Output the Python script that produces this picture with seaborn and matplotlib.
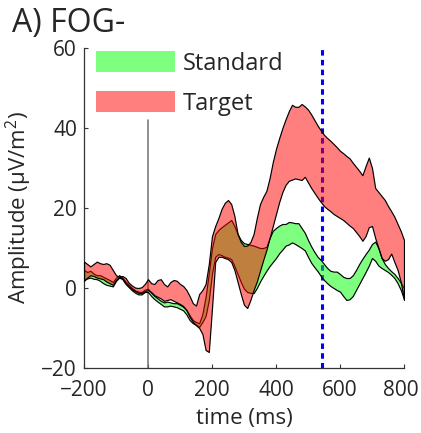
import matplotlib
matplotlib.use("Agg")
import matplotlib.pyplot as plt
import matplotlib.transforms as mtransforms
from matplotlib.patches import Patch
import seaborn as sns

# time axis (ms), 10 ms steps
time_ms = [-200, -190, -180, -170, -160, -150, -140, -130, -120, -110,
           -100, -90, -80, -70, -60, -50, -40, -30, -20, -10,
           0, 10, 20, 30, 40, 50, 60, 70, 80, 90,
           100, 110, 120, 130, 140, 150, 160, 170, 180, 190,
           200, 210, 220, 230, 240, 250, 260, 270, 280, 290,
           300, 310, 320, 330, 340, 350, 360, 370, 380, 390,
           400, 410, 420, 430, 440, 450, 460, 470, 480, 490,
           500, 510, 520, 530, 540, 550, 560, 570, 580, 590,
           600, 610, 620, 630, 640, 650, 660, 670, 680, 690,
           700, 710, 720, 730, 740, 750, 760, 770, 780, 790, 800]

# Standard condition band (upper / lower edge), uV/m^2
standard_hi = [4.5, 4.0, 4.3, 3.6, 3.2, 3.2, 2.8, 2.4, 2.0, 1.5,
               2.6, 3.2, 2.6, 1.6, 0.8, 0.0, -0.6, -0.9, -1.0, -0.4,
               -0.2, -1.2, -2.0, -2.6, -3.2, -3.6, -3.4, -3.6, -3.8, -3.8,
               -4.2, -4.7, -5.5, -6.8, -8.0, -8.5, -8.8, -6.5, -2.2, 3.7,
               10.0, 13.5, 14.5, 15.2, 15.8, 16.4, 17.0, 15.5, 13.5, 12.0,
               11.2, 11.0, 10.8, 10.6, 10.3, 10.0, 10.0, 10.3, 12.5, 14.3,
               15.0, 15.6, 16.0, 16.0, 16.5, 16.4, 16.2, 16.2, 15.0, 13.8,
               12.0, 10.4, 9.0, 7.8, 7.0, 6.0, 5.0, 4.3, 4.1, 4.1,
               3.5, 2.8, 2.5, 2.5, 3.2, 4.5, 6.0, 7.3, 8.5, 9.6,
               11.0, 11.6, 10.0, 7.5, 6.0, 5.0, 4.2, 3.5, 2.5, 1.3, 0.0]
standard_lo = [2.0, 2.4, 2.6, 2.3, 2.2, 1.8, 1.2, 0.8, 0.6, 0.4,
               1.8, 2.6, 2.2, 1.0, 0.2, -0.6, -1.2, -1.6, -1.6, -1.0,
               -1.0, -2.0, -2.8, -3.4, -4.0, -4.6, -4.6, -4.4, -4.6, -4.8,
               -5.2, -5.6, -6.6, -8.0, -8.8, -9.2, -9.7, -8.5, -7.0, -3.0,
               3.7, 7.8, 8.5, 8.2, 7.8, 7.6, 7.2, 5.5, 3.5, 1.5,
               -0.2, -1.0, -1.2, -1.3, 0.0, 1.6, 3.0, 4.3, 5.5, 6.5,
               7.5, 8.7, 9.6, 10.6, 10.9, 11.4, 11.0, 10.5, 10.0, 9.4,
               7.8, 6.3, 5.2, 4.2, 3.0, 2.0, 1.2, 0.5, 0.0, -0.5,
               -0.9, -2.0, -3.0, -2.8, -2.0, -0.5, 1.0, 2.5, 4.0, 5.6,
               7.5, 6.8, 5.6, 5.0, 4.5, 4.0, 3.3, 2.5, 1.2, -0.5, -2.8]

# Target condition band (upper / lower edge)
target_hi = [6.6, 6.0, 5.4, 6.0, 6.6, 6.2, 6.0, 6.2, 5.8, 4.5,
             3.2, 2.8, 3.0, 2.5, 1.3, 0.6, 0.1, 0.0, 0.2, 1.0,
             2.2, 1.2, 1.0, 2.0, 2.2, 1.0, 0.4, 1.5, 2.0, 1.8,
             1.0, 0.5, -0.5, -2.0, -3.8, -4.4, -1.5, -0.5, 1.0, 6.0,
             13.0, 15.5, 17.5, 19.8, 21.3, 22.0, 21.0, 18.0, 13.5, 11.5,
             10.5, 10.6, 11.5, 13.5, 17.5, 21.0, 22.8, 24.3, 27.5, 31.5,
             34.8, 37.5, 40.0, 42.2, 44.2, 45.8, 45.3, 45.3, 46.0, 45.4,
             44.6, 43.4, 42.0, 40.6, 39.4, 38.3, 37.5, 36.8, 36.0, 35.2,
             34.3, 33.7, 33.0, 32.4, 31.3, 30.3, 29.3, 28.2, 30.5, 32.6,
             30.0, 25.0, 24.0, 23.0, 22.0, 20.5, 19.2, 17.8, 16.0, 14.2, 12.0]
target_lo = [1.8, 2.6, 3.2, 3.0, 2.6, 2.4, 2.2, 1.6, 1.2, 0.8,
             2.0, 2.8, 2.4, 1.2, 0.4, -0.3, -0.8, -1.2, -1.3, -0.8,
             -0.5, -1.0, -1.8, -2.2, -2.6, -3.2, -3.0, -2.8, -3.2, -3.6,
             -4.0, -4.5, -5.5, -7.2, -8.4, -9.3, -10.0, -11.5, -15.5, -16.0,
             -5.0, 6.5, 7.8, 7.8, 7.5, 7.2, 6.5, 4.5, 1.5, -1.5,
             -4.2, -5.0, -3.0, -0.5, 1.6, 4.3, 7.0, 9.5, 12.5, 15.5,
             18.5, 21.5, 24.0, 25.8, 26.8, 27.1, 27.4, 27.2, 27.0, 27.8,
             26.4, 25.0, 23.8, 22.6, 21.5, 20.5, 19.8, 19.2, 18.5, 18.0,
             17.5, 17.0, 16.3, 15.6, 15.0, 14.0, 13.0, 11.8, 13.0, 15.2,
             15.5, 12.5, 10.0, 7.5, 6.8, 7.2, 8.6, 6.5, 4.5, 1.5, -3.0]

cond_labels = ["Standard", "Target"]
cond_colors = [(0, 1, 0, 0.5), (1, 0, 0, 0.5)]
marker_time = 545          # blue dotted marker (ms)
onset_span = [-20, 42]     # extent of the stimulus-onset line

sns.set_style("ticks")
plt.rcParams['font.family'] = ['Open Sans', 'DejaVu Sans']
plt.rcParams['mathtext.fontset'] = 'custom'
plt.rcParams['mathtext.rm'] = 'Open Sans'
text_col = "#262626"
fs = 15

fig = plt.figure(figsize=(4.21, 4.33), dpi=100)
ax = fig.add_axes([84 / 421, 1 - 368 / 433, 320 / 421, 320 / 433])

ax.axvline(marker_time, color=(0, 0, 1), lw=2.2, ls=(0, (1.8, 1.4)), zorder=1)
ax.plot([0, 0], onset_span, color="#707070", lw=1.1, zorder=1)

ax.fill_between(time_ms, standard_lo, standard_hi, facecolor=cond_colors[0],
                edgecolor="black", lw=0.85, zorder=2)
ax.fill_between(time_ms, target_lo, target_hi, facecolor=cond_colors[1],
                edgecolor="black", lw=0.85, zorder=3)

ax.set_xlim(-200, 800)
ax.set_ylim(-20, 60)
ax.set_xticks([-200, 0, 200, 400, 600, 800])
ax.set_yticks([-20, 0, 20, 40, 60])
ax.tick_params(direction="in", length=3, width=0.8, colors="#333333",
               labelcolor=text_col, labelsize=fs)
ax.tick_params(axis="x", pad=9)
ax.tick_params(axis="y", pad=5)
sns.despine(ax=ax)
for s in ["left", "bottom"]:
    ax.spines[s].set_color("#333333")
    ax.spines[s].set_linewidth(0.9)

# nudge the last x label so it stays inside the canvas
fig.canvas.draw()
last = ax.get_xticklabels()[-1]
last.set_transform(last.get_transform() +
                   mtransforms.ScaledTranslation(-3 / 100, 0, fig.dpi_scale_trans))

ax.set_xlabel("time (ms)", fontsize=fs + 1, color=text_col, labelpad=5)
ax.set_ylabel(r"Amplitude (μV/m$^{\mathrm{2}}$)", fontsize=fs + 1,
              color=text_col, labelpad=5)

handles = [Patch(facecolor=c, edgecolor="none") for c in cond_colors]
ax.legend(handles, cond_labels, loc="upper left",
          bbox_to_anchor=(12 / 320, 317 / 320), frameon=False, fontsize=17,
          handlelength=3.35, handleheight=1.02, handletextpad=0.34,
          labelspacing=0.64, borderpad=0, borderaxespad=0, labelcolor=text_col)

fig.text(12 / 421, 1 - 32 / 433, "A) FOG-", fontsize=23, color=text_col,
         ha="left", va="baseline")

fig.savefig("out.png", dpi=100)
